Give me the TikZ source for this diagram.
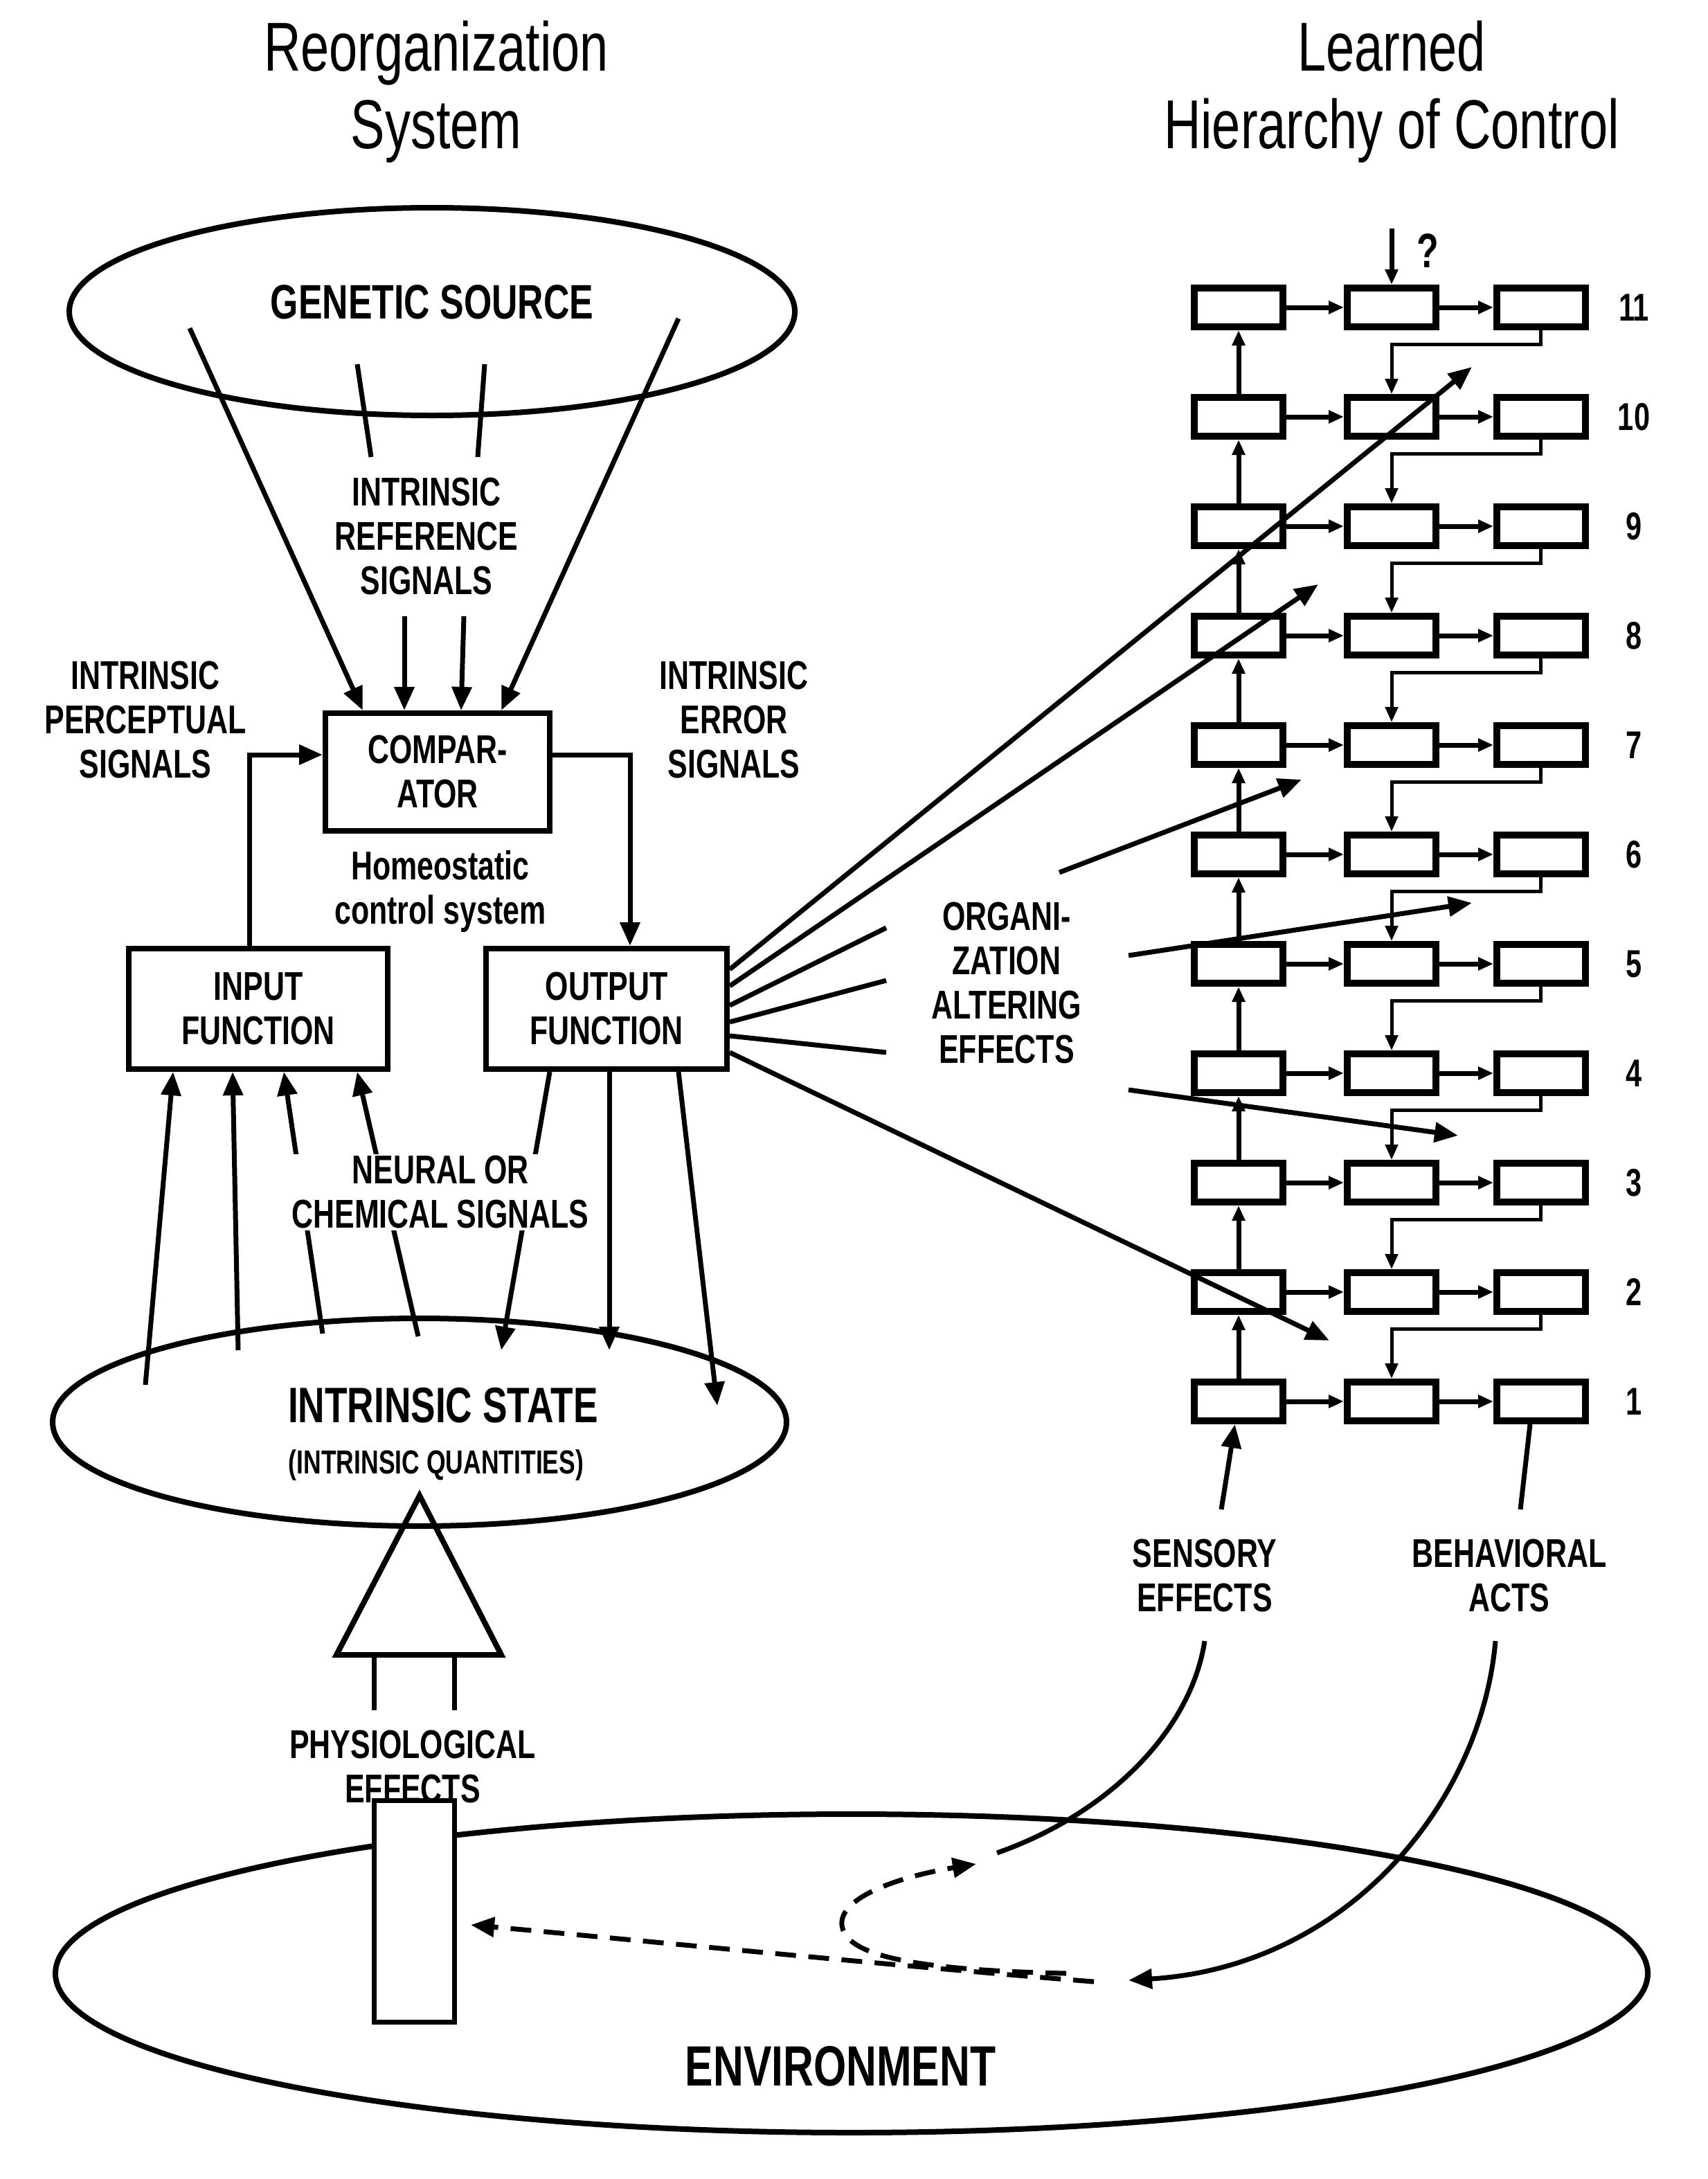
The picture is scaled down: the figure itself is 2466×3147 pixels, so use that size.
\documentclass[tikz,border=0pt]{standalone}
\usepackage{fontspec}
\setmainfont{Liberation Sans}[FakeStretch=0.74]
\usetikzlibrary{arrows.meta,calc,shapes.geometric}
\begin{document}
\begin{tikzpicture}[x=1pt,y=-1pt,
  line width=7pt,
  tip/.style={-{Triangle[length=34pt,width=28pt]}},
  stip/.style={-{Triangle[length=22pt,width=18pt]}},
  lbl/.style={font=\fontsize{58}{64}\selectfont\bfseries, align=center, inner sep=2pt},
  wl/.style={lbl, fill=white},
  title/.style={font=\fontsize{100}{112}\selectfont, align=center},
  box/.style={draw, line width=10pt, minimum width=128pt, minimum height=56pt, inner sep=0pt},
  bigbox/.style={draw, line width=8pt, align=center, font=\fontsize{58}{64}\selectfont\bfseries, inner sep=0pt}]
\useasboundingbox (0,0) rectangle (2466,3147);
% titles
\node[title] (t1) at (630,133) {Reorganization\\System};
\node[title] (t2) at (2010,133) {Learned\\Hierarchy of Control};
% genetic source
\node[draw, ellipse, minimum width=1048pt, minimum height=300pt, line width=8pt] (gen) at (624,450) {};
\node[font=\fontsize{70}{74}\selectfont\bfseries] (gent) at (624,436) {GENETIC SOURCE};
\coordinate (g1) at (274,474); \coordinate (g2) at (980,460);
\coordinate (g3) at (516,526); \coordinate (g4) at (700,526);
\coordinate (g3e) at (536,660); \coordinate (g4e) at (690,660);
\node[lbl] (irs) at (616,775) {INTRINSIC\\REFERENCE\\SIGNALS};
\node[bigbox, minimum width=324pt, minimum height=170pt] (comp) at (632,1115) {COMPAR-\\ATOR};
\draw[tip] (g1) -- (comp.north west -| 524,0) ;
\draw[tip] (g2) -- (comp.north -| 724,0);
\draw (g3) -- (g3e); \draw (g4) -- (g4e);
\coordinate (r1) at (584,890); \coordinate (r2) at (670,890);
\draw[tip] (r1) -- (comp.north -| 584,0);
\draw[tip] (r2) -- (comp.north -| 666,0);
\node[lbl] (ips) at (210,1040) {INTRINSIC\\PERCEPTUAL\\SIGNALS};
\node[lbl] (ies) at (1060,1040) {INTRINSIC\\ERROR\\SIGNALS};
\node[lbl] (homeo) at (636,1287) {Homeostatic\\control system};
\node[bigbox, minimum width=374pt, minimum height=174pt] (inp) at (373,1457) {INPUT\\FUNCTION};
\node[bigbox, minimum width=348pt, minimum height=174pt] (outp) at (876,1457) {OUTPUT\\FUNCTION};
\draw[tip] (inp.north -| 360,0) |- (comp.west |- 0,1090);
\draw[tip] (comp.east |- 0,1090) -| (outp.north -| 910,0);
% intrinsic state
\node[draw, ellipse, minimum width=1060pt, minimum height=300pt, line width=8pt] (ist) at (606,2054) {};
\node[font=\fontsize{72}{76}\selectfont\bfseries] (istt) at (640,2030) {INTRINSIC STATE};
\node[font=\fontsize{48}{52}\selectfont\bfseries] (istq) at (630,2116) {(INTRINSIC QUANTITIES)};
\coordinate (a1) at (210,2000); \coordinate (a2) at (344,1950);
\coordinate (a3) at (466,1926); \coordinate (a4) at (604,1930);
\draw[tip] (a1) -- (inp.south -| 250,0);
\draw[tip] (a2) -- (inp.south -| 336,0);
\draw[tip] (a3) -- (inp.south -| 410,0);
\draw[tip] (a4) -- (inp.south -| 516,0);
\coordinate (b1) at (724,1950); \coordinate (b2) at (880,1950); \coordinate (b3) at (1036,2030);
\draw[tip] (outp.south -| 794,0) -- (b1);
\draw[tip] (outp.south -| 880,0) -- (b2);
\draw[tip] (outp.south -| 980,0) -- (b3);
\node[wl] (ncs) at (636,1722) {NEURAL OR\\CHEMICAL SIGNALS};
% triangle and physiological effects
\draw[line width=8pt] (606,2160) coordinate (tr) -- (724,2390) -- (486,2390) -- cycle;
\coordinate (p1) at (540,2390); \coordinate (p2) at (656,2390);
\draw (p1) -- (540,2470); \draw (p2) -- (656,2470);
\node[lbl] (phys) at (596,2552) {PHYSIOLOGICAL\\EFFECTS};
% environment
\node[draw, ellipse, minimum width=2300pt, minimum height=460pt, line width=8pt] (env) at (1230,2850) {};
\node[draw, fill=white, line width=7pt, minimum width=116pt, minimum height=320pt, inner sep=0pt] (bar) at (598,2760) {};
\node[font=\fontsize{82}{86}\selectfont\bfseries] (envt) at (1214,2984) {ENVIRONMENT};
% hierarchy
\foreach \i in {1,...,11}{
  \pgfmathsetmacro{\yy}{2024-(\i-1)*158}
  \node[box] (a\i) at (1789,\yy) {};
  \node[box] (b\i) at (2010,\yy) {};
  \node[box] (c\i) at (2226,\yy) {};
  \node[font=\fontsize{56}{60}\selectfont\bfseries] (n\i) at (2360,\yy) {\i};
  \draw[stip] (a\i) -- (b\i);
  \draw[stip] (b\i) -- (c\i);
}
\foreach \i [evaluate=\i as \j using int(\i+1)] in {1,...,10}{
  \draw[stip] (a\i) -- (a\j);
  \draw[stip, line width=5pt] (c\j.south -| 2225,0) -- ++(0,20) -| (b\i);
}
\coordinate (q) at (2010,330);
\draw[stip] (q) -- (b11);
\node[font=\fontsize{70}{74}\selectfont\bfseries] (qm) at (2062,362) {?};
% organization altering effects
\node[lbl] (org) at (1454,1420) {ORGANI-\\ZATION\\ALTERING\\EFFECTS};
\coordinate (o1) at (2126,530); \coordinate (o2) at (1904,844);
\coordinate (o3) at (1280,1340); \coordinate (o4) at (1280,1416); \coordinate (o5) at (1280,1520);
\coordinate (o6) at (1920,1936);
\draw[tip] (outp.east |- 0,1400) -- (o1);
\draw[tip] (outp.east |- 0,1424) -- (o2);
\draw (outp.east |- 0,1452) -- (o3);
\draw (outp.east |- 0,1476) -- (o4);
\draw (outp.east |- 0,1496) -- (o5);
\draw[tip] (outp.east |- 0,1520) -- (o6);
\coordinate (e1) at (1530,1260); \coordinate (e2) at (1630,1380); \coordinate (e3) at (1630,1574);
\draw[tip] (e1) -- (1880,1126);
\draw[tip] (e2) -- (2126,1304);
\draw[tip] (e3) -- (2106,1640);
% sensory / behavioral
\node[lbl] (sens) at (1740,2276) {SENSORY\\EFFECTS};
\node[lbl] (beh) at (2180,2276) {BEHAVIORAL\\ACTS};
\draw[tip] (1764,2180) -- (a1);
\draw (c1.south -| 2210,0) -- (2196,2180);
\draw[tip] (2160,2370) .. controls (2140,2600) and (1950,2840) .. (1630,2860) coordinate (ba);
\draw (1740,2370) .. controls (1720,2500) and (1600,2620) .. (1440,2676) coordinate (se);
\draw[tip, dash pattern=on 30pt off 18pt] (1580,2862) .. controls (1300,2840) and (900,2800) .. (680,2780);
\draw[tip, dash pattern=on 30pt off 18pt] (1540,2850) .. controls (1300,2845) and (1220,2820) .. (1216,2780) .. controls (1212,2740) and (1300,2710) .. (1410,2692);
\end{tikzpicture}
\end{document}
